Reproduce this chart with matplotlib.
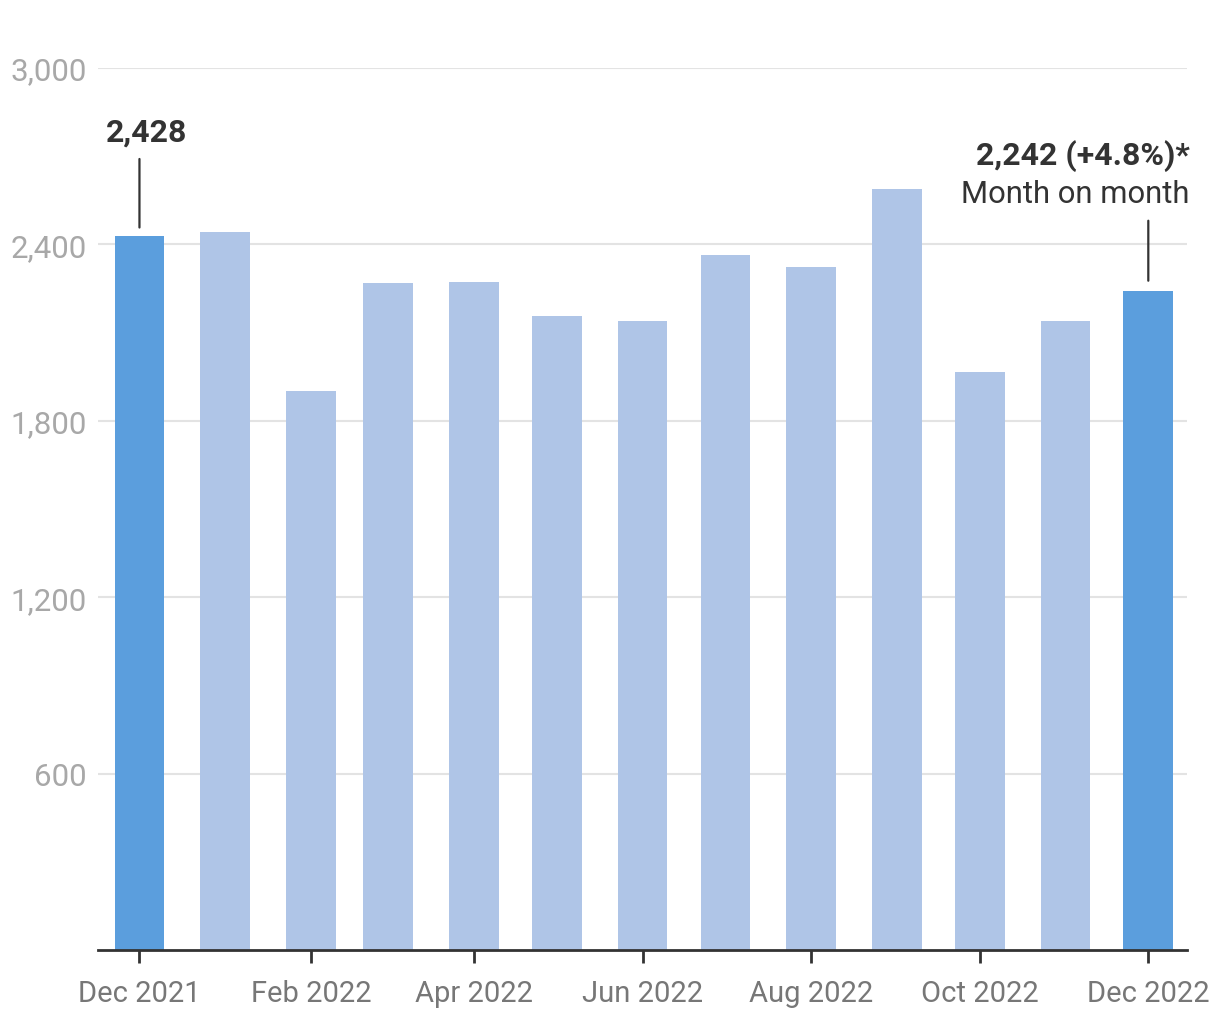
import matplotlib
matplotlib.use("Agg")
import matplotlib.pyplot as plt
import numpy as np
import datetime as dt

plt.rcParams['font.family'] = ['Roboto', 'DejaVu Sans']

# monthly values, Dec 2021 .. Dec 2022
months = [dt.date(2021, 12, 1)] + [dt.date(2022, m, 1) for m in range(1, 13)]
values = [2428, 2443, 1902, 2270, 2273, 2157, 2140, 2365, 2324, 2590, 1967, 2139, 2242]
highlight = [True] + [False] * 11 + [True]

yticks = [600, 1200, 1800, 2400, 3000]
tick_months = months[::2]

dark = '#5b9edd'
light = '#afc5e7'
txt = '#333333'

fig = plt.figure(figsize=(12.2, 10.2), dpi=100)
ax = fig.add_axes([98 / 1220, 1 - 951 / 1020, (1187 - 98) / 1220, (951 - 69) / 1020])

colors = [dark if h else light for h in highlight]
ax.bar(months, values, width=18, color=colors, zorder=2)

ax.set_ylim(0, 3000)
ax.set_xlim(dt.date(2021, 11, 16), dt.date(2022, 12, 15))
ax.set_yticks(yticks)
ax.set_yticklabels([f'{v:,}' for v in yticks])
ax.yaxis.grid(True, color='#e3e3e3', linewidth=1.5, zorder=0)
ax.tick_params(axis='y', length=0, pad=8, labelsize=22.5, labelcolor='#a8a8a8')

ax.set_xticks(tick_months)
ax.set_xticklabels([d.strftime('%b %Y') for d in tick_months])
ax.tick_params(axis='x', length=9, width=2, color='#333333', direction='out',
               pad=12, labelsize=21, labelcolor='#777777')

for s in ['top', 'right', 'left']:
    ax.spines[s].set_visible(False)
ax.spines['bottom'].set_color('#333333')
ax.spines['bottom'].set_linewidth(2)

# first bar annotation
ax.annotate('', xy=(months[0], values[0] + 20), xytext=(months[0], 2700),
            arrowprops=dict(arrowstyle='-', color=txt, lw=1.6), annotation_clip=False)
ax.text(months[0] - dt.timedelta(days=12.3), 2785, f'{values[0]:,}', fontsize=23,
        fontweight='bold', color=txt, ha='left', va='center')

# last bar annotation
pct = (values[-1] / values[-2] - 1) * 100
ax.annotate('', xy=(months[-1], values[-1] + 25), xytext=(months[-1], 2490),
            arrowprops=dict(arrowstyle='-', color=txt, lw=1.6), annotation_clip=False)
ax.text(dt.date(2022, 12, 16), 2703, f'{values[-1]:,} (+{pct:.1f}%)*', fontsize=23,
        fontweight='bold', color=txt, ha='right', va='center')
ax.text(dt.date(2022, 12, 16), 2573, 'Month on month', fontsize=22.3,
        color=txt, ha='right', va='center')

fig.savefig('out.png', dpi=100)
